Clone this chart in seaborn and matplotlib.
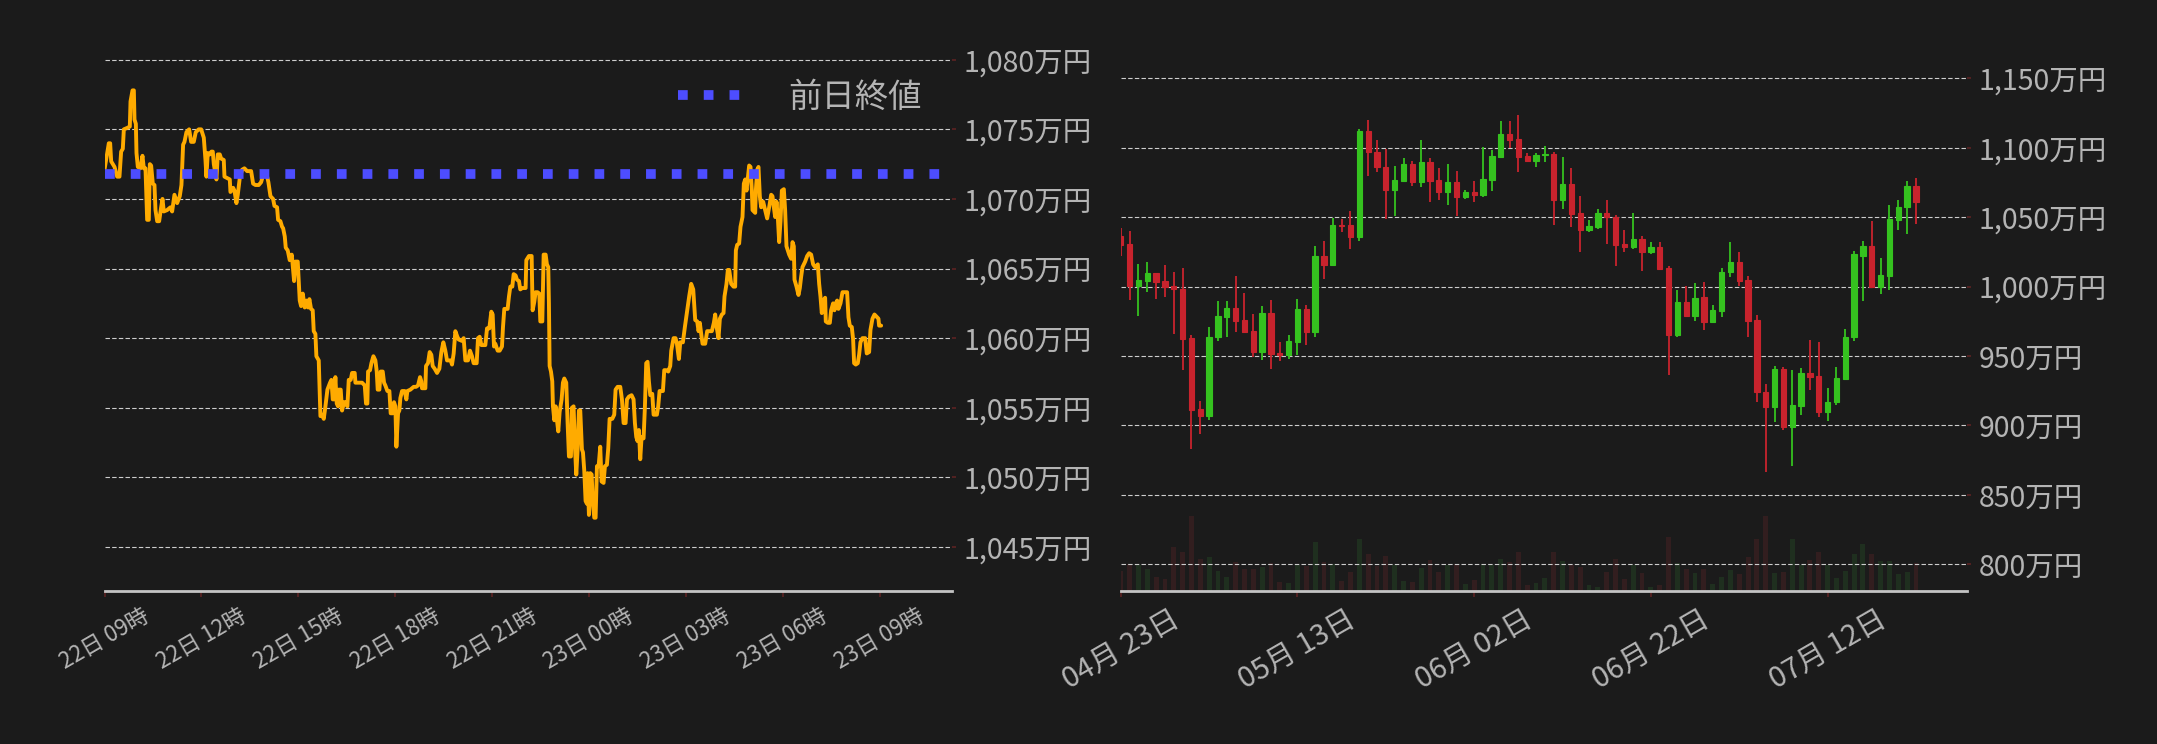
"""
BTC/JPY price panel: 24h intraday line (left) and 3-month daily candles (right).
Values are in 万円 (10,000 JPY).
"""

import numpy as np
import pandas as pd
import matplotlib
matplotlib.use("Agg")
import matplotlib.pyplot as plt
import matplotlib.dates as mdates
from matplotlib.ticker import FuncFormatter
import seaborn as sns

# ── data ──────────────────────────────────────────────────────────────────────

intraday_start = "2024-07-22 09:00"
prev_close = 1071.8

# minutes after 22日 09時
intraday_minutes = [
    0, 3.7, 8.0, 10.5, 12.4, 18.6, 23.5, 27.8, 30.9, 34.0,
    35.9, 42.1, 47.0, 48.3, 52.0, 54.5, 55.7, 58.2, 59.4, 61.9,
    66.8, 70.5, 73.0, 76.1, 79.2, 82.3, 84.2, 86.6, 89.7, 92.8,
    94.7, 97.8, 101.5, 105.2, 107.7, 110.1, 116.3, 122.5, 125.6, 129.9,
    134.9, 139.8, 142.9, 146.0, 148.5, 152.2, 157.2, 160.9, 165.8, 169.5,
    175.1, 179.5, 184.4, 187.5, 189.3, 191.8, 195.5, 198.6, 201.1, 203.0,
    207.9, 210.4, 214.1, 216.6, 221.5, 222.8, 227.7, 232.7, 233.9, 238.9,
    241.3, 245.0, 247.5, 251.2, 255.6, 259.9, 264.8, 272.3, 276.0, 280.3,
    286.5, 290.8, 294.5, 302.0, 304.4, 308.2, 313.1, 315.6, 320.5, 322.4,
    326.7, 329.8, 331.7, 334.8, 336.6, 340.3, 344.0, 347.8, 350.2, 352.1,
    354.6, 358.9,
    362.6, 365.1, 368.2, 371.9, 375.0, 378.1, 380.5, 383.6, 386.7, 388.6,
    391.7, 393.5, 397.9, 399.1, 401.0, 404.1, 407.2, 410.3, 414.0, 418.9,
    421.4, 423.9, 426.3, 428.8, 431.3, 433.8, 435.0, 438.7, 441.2, 444.9,
    447.4, 451.1, 453.6, 457.3, 459.8, 464.7, 466.0, 478.3, 483.3, 485.7,
    488.2, 489.5, 493.2, 495.7, 499.4, 503.1, 505.6, 507.4, 510.5, 513.0,
    516.7, 519.2, 521.6, 525.4, 529.1, 531.5, 535.3, 537.7, 540.2, 542.1,
    545.2, 547.6, 549.5, 552.6, 557.5, 560.6, 562.5, 568.1, 574.2, 578.6,
    582.3, 586.0, 588.5, 589.7, 595.9, 597.1, 600.8, 603.9, 607.0, 609.5,
    613.2, 617.6, 621.9, 625.6, 629.3, 633.0, 636.1, 642.9, 645.4, 648.5,
    651.6, 655.3, 657.8, 664.0, 667.0, 670.2, 675.1, 678.8, 682.5, 685.6,
    691.2, 693.7, 696.8, 699.9, 707.3, 710.4, 714.7, 718.4, 720.9, 723.4,
    725.8,
    730.2, 733.9, 738.2, 740.1, 742.5, 748.7, 751.2, 753.7, 757.4, 759.9,
    763.6, 766.0, 769.8, 772.2, 775.9, 782.1, 783.4, 788.3, 793.3, 795.1,
    798.2, 800.7, 804.4, 807.5, 809.4, 813.1, 815.6, 819.3, 821.7, 824.2,
    825.4, 826.7, 829.2, 831.6, 832.9, 835.4, 837.8, 840.3, 842.8, 845.3,
    849.0, 851.4, 853.9, 857.6, 860.1, 862.6, 866.3, 868.1, 871.2, 873.7,
    876.2, 878.7, 881.1, 883.6, 886.7, 888.6, 891.0, 893.5, 896.0, 897.2,
    899.7, 902.2, 904.7, 907.1, 909.6, 912.1, 914.6, 917.7, 920.7, 923.2,
    926.9, 929.4, 933.1, 935.6, 938.1, 943.0, 946.7, 949.2, 952.9, 957.9,
    961.0, 964.1, 967.8, 970.3, 974.0, 978.9, 982.6, 985.1, 987.6, 990.0,
    992.5, 995.0, 997.5, 1001.2, 1003.7, 1006.1, 1008.6, 1011.1, 1013.6, 1017.3,
    1019.8, 1025.9, 1028.4, 1030.9, 1037.1, 1039.6, 1043.3, 1047.0, 1050.7, 1052.6,
    1056.9, 1060.6, 1063.1, 1066.8, 1069.3, 1074.2, 1077.9,
    1085.9, 1089.6, 1093.4, 1097.1, 1100.8, 1103.3, 1105.7, 1108.2, 1110.7, 1115.6,
    1119.3, 1123.1, 1128.0, 1131.7, 1134.2, 1137.3, 1140.4, 1142.9, 1146.6, 1149.7,
    1151.5, 1155.2, 1157.7, 1160.2, 1163.9, 1168.2, 1171.3, 1172.6, 1175.0, 1178.7,
    1181.2, 1184.9, 1187.4, 1189.9, 1192.4, 1194.8, 1197.3, 1199.8, 1202.3, 1203.5,
    1206.0, 1208.5, 1209.7, 1212.2, 1214.6, 1217.1, 1219.6, 1223.3, 1227.0, 1230.7,
    1234.4, 1238.2, 1240.6, 1243.1, 1245.6, 1248.1, 1250.5, 1253.0, 1255.5, 1258.0,
    1261.7, 1264.1, 1266.6, 1271.6, 1275.3, 1277.8, 1280.2, 1281.5, 1285.2, 1288.9,
    1291.4, 1293.8, 1296.3, 1301.3, 1305.0, 1308.7, 1312.4, 1316.1, 1319.8, 1324.8,
    1327.3, 1329.7, 1332.2, 1334.7, 1338.4, 1339.6, 1343.3, 1347.1, 1349.5, 1353.2,
    1355.7, 1358.2, 1360.7, 1363.1, 1366.9, 1370.6, 1375.5, 1379.2, 1381.7, 1384.2,
    1387.9, 1390.4, 1392.2, 1395.3, 1399.0, 1401.5, 1404.0, 1407.7, 1412.7, 1415.7,
    1420.1, 1422.6, 1426.3, 1430.0, 1434.9, 1437.4, 1438.6, 1442.4,
]

intraday_price = [
    1072.1, 1073.0, 1074.0, 1074.0, 1072.7, 1072.3, 1071.6, 1071.6, 1073.4, 1073.6,
    1075.0, 1075.1, 1075.2, 1077.0, 1077.8, 1077.8, 1075.7, 1075.4, 1073.3, 1072.3,
    1072.2, 1073.1, 1072.2, 1072.2, 1068.5, 1068.5, 1072.5, 1072.4, 1071.1, 1071.0,
    1069.2, 1068.4, 1068.4, 1069.4, 1070.0, 1069.1, 1069.2, 1069.4, 1069.1, 1070.3,
    1069.7, 1070.2, 1071.0, 1073.9, 1074.1, 1074.8, 1075.0, 1074.1, 1074.1, 1074.8,
    1075.0, 1075.0, 1074.4, 1072.8, 1071.6, 1073.3, 1073.2, 1073.4, 1073.4, 1072.5,
    1071.4, 1073.2, 1073.2, 1072.9, 1072.8, 1071.6, 1071.5, 1071.4, 1070.5, 1070.8,
    1070.6, 1069.7, 1070.3, 1071.5, 1072.1, 1072.2, 1072.0, 1072.0, 1071.1, 1071.0,
    1071.0, 1071.2, 1071.7, 1071.6, 1071.2, 1070.2, 1070.0, 1069.5, 1069.4, 1068.5,
    1068.4, 1068.0, 1067.9, 1067.3, 1066.5, 1066.3, 1065.6, 1066.0, 1064.9, 1064.1,
    1065.5, 1065.5,
    1062.7, 1062.3, 1063.2, 1062.2, 1062.7, 1062.2, 1062.8, 1062.1, 1062.0, 1060.5,
    1060.3, 1058.7, 1058.4, 1056.8, 1054.4, 1054.5, 1054.2, 1055.1, 1056.3, 1056.8,
    1057.0, 1055.6, 1055.6, 1057.2, 1055.3, 1055.1, 1056.3, 1056.3, 1054.8, 1055.4,
    1055.4, 1055.1, 1057.0, 1057.0, 1057.5, 1057.5, 1056.8, 1056.8, 1056.6, 1055.3,
    1055.3, 1057.6, 1057.7, 1058.2, 1058.7, 1058.4, 1057.6, 1056.3, 1056.3, 1057.6,
    1057.6, 1056.8, 1056.6, 1056.2, 1056.2, 1054.6, 1054.6, 1055.4, 1055.1, 1052.2,
    1054.6, 1054.8, 1055.7, 1056.2, 1056.2, 1055.6, 1056.2, 1056.3, 1056.5, 1056.5,
    1056.6, 1057.2, 1056.9, 1056.4, 1056.4, 1058.0, 1058.2, 1059.0, 1058.8, 1058.0,
    1057.8, 1057.5, 1057.8, 1059.0, 1059.7, 1059.1, 1058.4, 1058.4, 1058.1, 1058.9,
    1060.5, 1060.1, 1059.9, 1059.8, 1060.0, 1058.4, 1058.4, 1059.1, 1058.7, 1058.2,
    1058.2, 1060.0, 1060.1, 1059.5, 1059.5, 1060.7, 1060.7, 1061.9, 1061.7, 1059.4,
    1059.6,
    1059.1, 1059.1, 1059.4, 1060.8, 1062.1, 1062.1, 1063.0, 1063.7, 1063.7, 1064.6,
    1064.5, 1064.2, 1064.1, 1063.5, 1063.6, 1063.6, 1065.6, 1065.9, 1065.9, 1062.0,
    1062.6, 1063.3, 1063.3, 1063.2, 1061.2, 1061.2, 1066.0, 1066.0, 1065.3, 1065.1,
    1062.5, 1058.0, 1057.6, 1056.9, 1055.1, 1054.1, 1055.1, 1054.1, 1053.3, 1054.7,
    1055.6, 1056.8, 1057.1, 1056.8, 1053.9, 1051.5, 1051.5, 1055.0, 1055.1, 1052.2,
    1050.2, 1052.0, 1054.8, 1054.8, 1052.0, 1051.8, 1050.5, 1048.3, 1048.1, 1050.3,
    1047.3, 1050.3, 1050.2, 1048.1, 1047.1, 1047.1, 1050.8, 1050.8, 1052.2, 1049.7,
    1049.6, 1050.8, 1050.9, 1052.1, 1054.2, 1054.2, 1054.5, 1056.3, 1056.5, 1056.5,
    1055.6, 1053.9, 1053.9, 1055.6, 1055.8, 1055.9, 1055.6, 1053.9, 1052.9, 1052.6,
    1053.4, 1051.3, 1052.9, 1052.8, 1055.1, 1058.2, 1058.3, 1056.9, 1055.9, 1056.0,
    1054.5, 1054.5, 1055.1, 1056.2, 1056.2, 1057.7, 1057.7, 1057.6, 1058.0, 1059.1,
    1060.0, 1060.0, 1059.6, 1058.5, 1059.7, 1059.7, 1060.8,
    1063.0, 1063.9, 1063.5, 1061.3, 1061.2, 1060.5, 1061.1, 1060.3, 1059.6, 1059.6,
    1060.5, 1060.5, 1060.5, 1061.1, 1061.7, 1060.7, 1060.0, 1061.4, 1061.7, 1061.8,
    1063.0, 1063.9, 1064.9, 1064.9, 1063.9, 1063.7, 1063.7, 1066.3, 1066.7, 1066.8,
    1068.0, 1068.7, 1071.1, 1071.4, 1070.6, 1071.5, 1072.4, 1072.3, 1070.6, 1069.2,
    1069.1, 1069.0, 1070.6, 1072.1, 1072.3, 1070.2, 1069.4, 1069.8, 1069.2, 1068.6,
    1069.4, 1070.3, 1070.2, 1069.4, 1068.7, 1069.8, 1068.7, 1066.9, 1068.4, 1070.6,
    1070.7, 1069.2, 1066.6, 1066.0, 1065.7, 1066.9, 1066.6, 1064.2, 1063.7, 1063.1,
    1063.6, 1064.4, 1065.1, 1065.5, 1065.9, 1066.1, 1066.0, 1065.3, 1065.1, 1065.3,
    1063.9, 1063.0, 1061.8, 1062.7, 1062.9, 1061.2, 1061.1, 1061.1, 1062.0, 1062.5,
    1062.0, 1062.5, 1062.7, 1062.1, 1062.5, 1063.3, 1063.3, 1063.3, 1061.5, 1060.9,
    1060.8, 1059.9, 1058.2, 1058.1, 1058.2, 1058.8, 1059.7, 1060.0, 1060.0, 1058.9,
    1059.0, 1060.6, 1061.4, 1061.7, 1061.5, 1061.4, 1060.9, 1060.9,
]

# daily candles from 2024-04-23
daily_start = "2024-04-23"
candle_open = [
    1036.3, 1030.7, 1000.1, 1003.9, 1009.9, 1003.9, 1000.1, 998.3, 963.0, 911.9,
    907.0, 963.3, 978.2, 984.7, 975.9, 967.9, 953.0, 981.1, 952.2, 950.5,
    960.2, 983.9, 966.9, 1021.9, 1015.8, 1044.3, 1044.3, 1035.3, 1111.9, 1096.8,
    1086.0, 1069.8, 1076.2, 1088.3, 1075.4, 1089.6, 1076.7, 1068.2, 1075.2, 1064.1,
    1068.0, 1066.2, 1077.0, 1093.4, 1109.9, 1106.3, 1093.9, 1090.6, 1094.5, 1095.5,
    1062.6, 1073.9, 1053.1, 1041.0, 1043.0, 1053.1, 1050.0, 1030.7, 1028.6, 1034.3,
    1025.0, 1028.4, 1013.5, 965.4, 988.8, 979.0, 992.4, 974.1, 982.6, 1010.4,
    1017.6, 1004.7, 975.9, 923.9, 913.4, 940.7, 898.8, 914.2, 937.9, 935.5,
    909.6, 916.5, 933.7, 963.3, 1022.2, 1029.1, 999.6, 1007.8, 1048.2, 1056.9,
    1072.3,
]
candle_high = [
    1042.0, 1039.9, 1016.3, 1017.6, 1009.9, 1015.5, 1010.4, 1013.5, 965.1, 917.5,
    970.8, 989.5, 989.5, 1007.8, 995.5, 980.3, 985.9, 990.3, 960.0, 965.1,
    991.1, 986.7, 1029.1, 1032.7, 1049.2, 1048.9, 1054.3, 1113.5, 1119.9, 1105.5,
    1099.1, 1086.7, 1092.7, 1090.1, 1105.5, 1092.7, 1085.5, 1088.3, 1083.1, 1069.5,
    1075.9, 1100.4, 1098.3, 1119.1, 1119.1, 1123.5, 1096.3, 1096.3, 1101.1, 1097.0,
    1093.2, 1085.5, 1065.1, 1048.2, 1055.9, 1062.3, 1051.5, 1040.7, 1053.1, 1036.6,
    1031.9, 1031.9, 1015.0, 997.5, 1000.3, 1002.7, 1003.2, 986.7, 1013.5, 1031.9,
    1024.8, 1007.5, 979.5, 929.9, 942.7, 942.2, 939.9, 941.5, 961.5, 960.0,
    927.0, 942.0, 969.2, 1025.5, 1032.7, 1047.1, 1020.7, 1058.7, 1062.3, 1075.9,
    1078.3,
]
candle_low = [
    1022.2, 990.6, 979.0, 996.2, 991.3, 992.4, 966.1, 940.2, 883.1, 894.1,
    904.2, 960.7, 963.3, 967.4, 967.4, 948.9, 947.4, 940.9, 946.1, 948.1,
    951.0, 958.2, 963.3, 1005.7, 1015.8, 1038.9, 1027.3, 1033.0, 1079.8, 1082.6,
    1048.9, 1051.0, 1074.9, 1072.6, 1071.8, 1060.5, 1062.6, 1059.0, 1051.0, 1063.3,
    1060.5, 1064.6, 1069.0, 1093.4, 1099.9, 1082.1, 1090.6, 1086.2, 1089.8, 1044.6,
    1056.1, 1043.0, 1025.0, 1038.9, 1041.7, 1030.9, 1015.0, 1025.0, 1027.3, 1011.4,
    1023.7, 1012.1, 936.6, 963.6, 978.2, 975.4, 969.0, 974.1, 978.2, 1007.0,
    1000.1, 963.3, 917.0, 866.1, 902.6, 897.0, 871.0, 907.8, 925.8, 906.2,
    903.4, 915.0, 933.7, 961.0, 989.8, 999.6, 994.9, 997.8, 1041.0, 1038.1,
    1045.3,
]
candle_close = [
    1030.2, 1000.1, 1004.7, 1009.9, 1003.4, 999.3, 998.0, 962.5, 911.4, 907.0,
    963.6, 978.7, 984.7, 975.4, 967.4, 953.0, 981.1, 951.7, 950.7, 960.7,
    983.9, 966.9, 1021.9, 1015.8, 1044.3, 1043.8, 1035.3, 1111.9, 1096.5, 1085.7,
    1069.8, 1076.7, 1088.3, 1075.4, 1089.6, 1076.2, 1068.2, 1075.2, 1064.1, 1068.0,
    1066.2, 1077.5, 1093.9, 1109.9, 1105.8, 1093.4, 1090.6, 1094.7, 1095.5, 1062.6,
    1073.9, 1052.3, 1041.0, 1043.5, 1053.1, 1050.0, 1030.2, 1028.6, 1034.3, 1025.0,
    1028.4, 1012.9, 965.4, 988.8, 979.0, 991.9, 974.1, 983.1, 1010.4, 1017.6,
    1004.2, 975.4, 923.7, 913.4, 940.7, 898.8, 914.7, 937.9, 935.0, 909.8,
    916.8, 934.3, 963.6, 1023.5, 1029.1, 999.6, 1008.3, 1048.7, 1057.2, 1072.3,
    1060.5,
]
volume = [
    58, 77, 75, 64, 40, 36, 125, 110, 212, 92,
    95, 58, 41, 82, 62, 64, 69, 80, 27, 25,
    75, 70, 137, 83, 77, 30, 55, 148, 105, 70,
    100, 73, 30, 27, 65, 89, 55, 75, 78, 22,
    33, 78, 75, 90, 83, 111, 19, 25, 39, 109,
    85, 75, 69, 19, 13, 55, 92, 36, 75, 53,
    13, 19, 151, 81, 64, 53, 62, 22, 41, 61,
    50, 95, 148, 212, 53, 55, 148, 73, 89, 109,
    75, 39, 58, 106, 134, 106, 85, 85, 50, 55,
    80,
]

# ── style ─────────────────────────────────────────────────────────────────────

BG = "#1b1b1b"
TXT = "#b4b4b4"
GRID = "#cdcdcd"
TICK = "#5a2222"
ORANGE = "#ffab00"
BLUE = "#4d4dff"
UP = "#35c21f"
DOWN = "#c8232d"
UP_VOL = "#1f2f1f"
DOWN_VOL = "#321e1f"

sns.set_theme(style="dark", rc={
    "axes.facecolor": BG,
    "figure.facecolor": BG,
    "savefig.facecolor": BG,
    "text.color": TXT,
    "axes.edgecolor": "#c4c4c4",
})
plt.rcParams["font.family"] = ["Noto Sans CJK JP", "DejaVu Sans"]

man_fmt = FuncFormatter(lambda v, _: f"{v:,.0f}万円")


def style_axis(ax, xsize):
    for side in ["top", "left", "right"]:
        ax.spines[side].set_visible(False)
    ax.spines["bottom"].set_color("#c4c4c4")
    ax.spines["bottom"].set_linewidth(2)
    ax.yaxis.tick_right()
    ax.yaxis.set_major_formatter(man_fmt)
    ax.grid(axis="y", color=GRID, linestyle=(0, (4, 2)), linewidth=0.8)
    ax.grid(axis="x", visible=False)
    ax.tick_params(axis="y", labelcolor=TXT, color=TICK, labelsize=20.5,
                   length=3, pad=5, right=True, left=False)
    ax.tick_params(axis="x", labelcolor=TXT, color=TICK, labelsize=xsize,
                   labelrotation=30, length=4, pad=5, bottom=True)
    ax.set_xlabel("")
    ax.set_ylabel("")


fig = plt.figure(figsize=(21.57, 7.44), dpi=100)
ax1 = fig.add_axes([0.04845, 0.2050, 0.3929, 0.7278])
ax2 = fig.add_axes([0.5196, 0.2050, 0.3924, 0.7278])

# ── left: intraday line ───────────────────────────────────────────────────────

t0 = pd.Timestamp(intraday_start)
intraday = pd.DataFrame({
    "time": t0 + pd.to_timedelta(intraday_minutes, unit="min"),
    "price": intraday_price,
})
sns.lineplot(data=intraday, x="time", y="price", ax=ax1, color=ORANGE,
             linewidth=2.8, zorder=3, legend=False)
prev_line = ax1.axhline(prev_close, color=BLUE, linewidth=7,
                        linestyle=(0, (1, 1.65)), dash_capstyle="butt",
                        zorder=4, label="前日終値")

ax1.set_xlim(t0, t0 + pd.Timedelta(minutes=1574))
ax1.set_ylim(1041.8, 1080.7)
ax1.set_yticks(np.arange(1045, 1081, 5))
ax1.xaxis.set_major_locator(mdates.HourLocator(byhour=range(0, 24, 3)))
ax1.xaxis.set_major_formatter(mdates.DateFormatter("%d日 %H時"))
style_axis(ax1, 16)

ax1.legend(handles=[prev_line], loc="upper right", frameon=False, fontsize=24,
           labelcolor=TXT, handlelength=2.0, handletextpad=1.3,
           borderaxespad=0.5)

# ── right: daily candles + volume ─────────────────────────────────────────────

days = pd.date_range(daily_start, periods=len(candle_open), freq="D")
o = np.array(candle_open)
h = np.array(candle_high)
l = np.array(candle_low)
c = np.array(candle_close)
up = c >= o
body_col = np.where(up, UP, DOWN)
vol_col = np.where(up, UP_VOL, DOWN_VOL)

# volume sits on a twin axis drawn underneath the price axis
axv = ax2.twinx()
axv.set_zorder(ax2.get_zorder() - 1)
ax2.patch.set_visible(False)
axv.bar(days, volume, width=0.55, color=vol_col, linewidth=0)
axv.set_ylim(0, max(volume) * 7.14)
axv.set_yticks([])
for side in axv.spines:
    axv.spines[side].set_visible(False)

ax2.vlines(days, l, h, colors=body_col, linewidth=1.3, zorder=3)
ax2.bar(days, np.abs(c - o), bottom=np.minimum(o, c), width=0.6,
        color=body_col, edgecolor=body_col, linewidth=0.8, zorder=4)

ax2.set_xlim(days[0], days[0] + pd.Timedelta(days=95.8))
ax2.set_ylim(780.4, 1170.3)
ax2.set_yticks(np.arange(800, 1151, 50))
ax2.set_xticks(pd.date_range(daily_start, periods=5, freq="20D"))
ax2.xaxis.set_major_formatter(mdates.DateFormatter("%m月 %d日"))
style_axis(ax2, 21)

fig.savefig("out.png", dpi=100, facecolor=BG)
